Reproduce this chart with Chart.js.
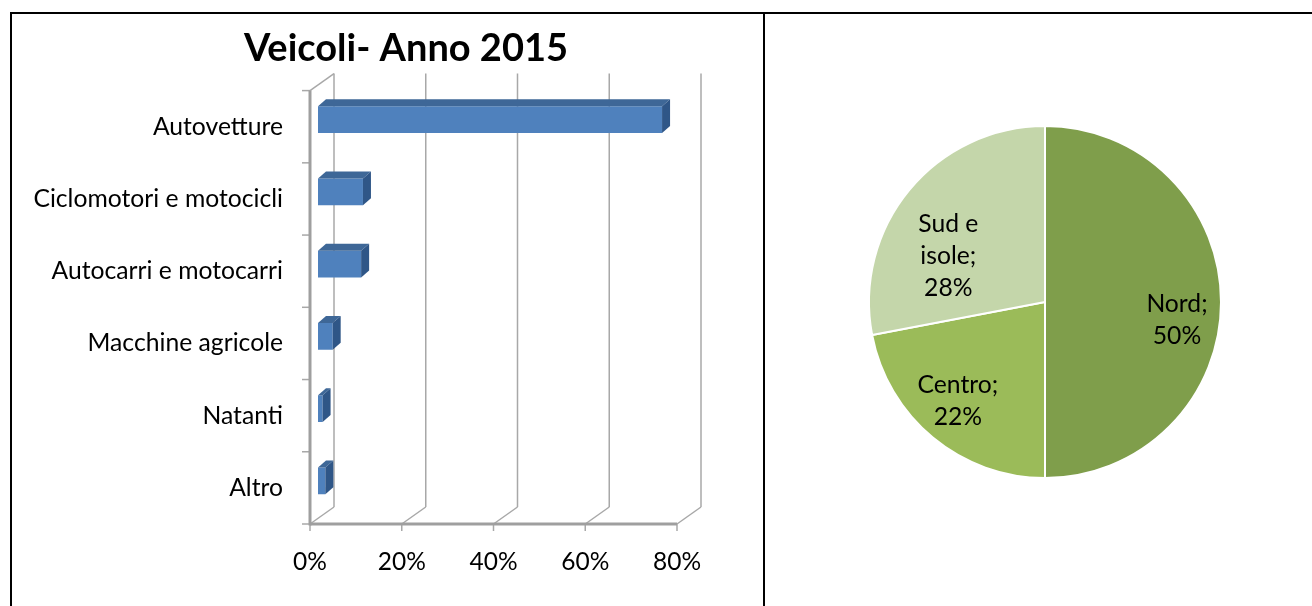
<!DOCTYPE html>
<html lang="it">
<head>
    <meta charset="UTF-8">
    <title>Veicoli - Anno 2015</title>
    <script src="https://cdn.jsdelivr.net/npm/chart.js@4.4.1/dist/chart.umd.min.js"></script>
    <style>
        body { margin: 0; width: 1312px; height: 606px; background: #fff; position: relative; overflow: hidden; }
        canvas { position: absolute; }
        .rule { position: absolute; background: #000; }
    </style>
</head>
<body>
    <canvas id="bars" width="812" height="606" style="left:0;top:0"></canvas>
    <canvas id="pie" width="547" height="591" style="left:765px;top:15px"></canvas>
    <!-- table borders of the page -->
    <div class="rule" style="left:10px;top:12px;width:1302px;height:2px"></div>
    <div class="rule" style="left:10px;top:12px;width:2px;height:594px"></div>
    <div class="rule" style="left:763px;top:12px;width:2px;height:594px"></div>
    <script>
        // bar chart data (share of vehicles, %)
        const vehicleTypes = ['Autovetture', 'Ciclomotori e motocicli', 'Autocarri e motocarri',
                              'Macchine agricole', 'Natanti', 'Altro'];
        const vehicleShare = [75.0, 9.8, 9.4, 3.2, 1.0, 1.6];
        const xTicks = [0, 20, 40, 60, 80];

        // pie chart data
        const areas = ['Nord', 'Centro', 'Sud e isole'];
        const areaShare = [50, 22, 28];
        const areaColors = ['#7f9e4b', '#9bbb59', '#c4d6aa'];

        const FONT = 'Lato, "Open Sans", sans-serif';

        function line(ctx, x1, y1, x2, y2) {
            ctx.beginPath();
            ctx.moveTo(x1, y1);
            ctx.lineTo(x2, y2);
            ctx.stroke();
        }

        // fake 3d: walls, floor and the top/side faces of every bar
        const bar3d = {
            id: 'bar3d',
            beforeDatasetsDraw(chart, args, opts) {
                const ctx = chart.ctx;
                const a = chart.chartArea;
                const x = chart.scales.x, y = chart.scales.y;
                ctx.save();
                ctx.strokeStyle = '#a8a8a8';
                ctx.lineWidth = 1.5;
                x.ticks.forEach(t => {
                    const px = x.getPixelForValue(t.value);
                    line(ctx, px + opts.wallX, a.top + opts.wallY, px + opts.wallX, a.bottom + opts.wallY);
                    line(ctx, px, a.bottom, px + opts.wallX, a.bottom + opts.wallY);
                    line(ctx, px, a.bottom, px, a.bottom + 7);
                });
                line(ctx, a.left, a.top, a.left + opts.wallX, a.top + opts.wallY);
                const n = y.ticks.length;
                const step = (a.bottom - a.top) / n;
                for (let i = 0; i <= n; i++) {
                    line(ctx, a.left - 8, a.top + i * step, a.left, a.top + i * step);
                }
                ctx.strokeStyle = '#9f9f9f';
                ctx.lineWidth = 3;
                line(ctx, a.left, a.top, a.left, a.bottom + 1.5);
                line(ctx, a.left, a.bottom, x.getPixelForValue(x.max), a.bottom);
                ctx.restore();

                // bars sit a bit inside the depth of the box
                ctx.save();
                ctx.translate(opts.shiftX, opts.shiftY);
            },
            afterDatasetsDraw(chart, args, opts) {
                const ctx = chart.ctx;
                chart.getDatasetMeta(0).data.forEach(b => {
                    const p = b.getProps(['x', 'y', 'base', 'height'], true);
                    const top = p.y - p.height / 2, bot = p.y + p.height / 2;
                    ctx.fillStyle = opts.topColor;
                    ctx.beginPath();
                    ctx.moveTo(p.base, top);
                    ctx.lineTo(p.x, top);
                    ctx.lineTo(p.x + opts.depthX, top + opts.depthY);
                    ctx.lineTo(p.base + opts.depthX, top + opts.depthY);
                    ctx.closePath();
                    ctx.fill();
                    ctx.fillStyle = opts.sideColor;
                    ctx.beginPath();
                    ctx.moveTo(p.x, top);
                    ctx.lineTo(p.x + opts.depthX, top + opts.depthY);
                    ctx.lineTo(p.x + opts.depthX, bot + opts.depthY);
                    ctx.lineTo(p.x, bot);
                    ctx.closePath();
                    ctx.fill();
                });
                ctx.restore();
            }
        };

        new Chart(document.getElementById('bars'), {
            type: 'bar',
            data: {
                labels: vehicleTypes,
                datasets: [{
                    data: vehicleShare,
                    backgroundColor: '#4f81bd',
                    borderWidth: 0,
                    barPercentage: 0.37,
                    categoryPercentage: 1
                }]
            },
            options: {
                indexAxis: 'y',
                responsive: false,
                animation: false,
                events: [],
                layout: { padding: 0 },
                scales: {
                    x: {
                        min: 0, max: 80,
                        afterBuildTicks(scale) { scale.ticks = xTicks.map(v => ({ value: v })); },
                        afterFit(scale) { scale.height = 82; },
                        grid: { display: false, drawTicks: false },
                        border: { display: false },
                        ticks: { color: '#000', padding: 23, font: { family: FONT, size: 24.5 },
                                 callback: v => v + '%' }
                    },
                    y: {
                        afterFit(scale) { scale.width = 310; },
                        grid: { display: false, drawTicks: false },
                        border: { display: false },
                        ticks: { color: '#000', padding: 27, font: { family: FONT, size: 24.7 } }
                    },
                    // empty spacer on the right so the title is centred like the original
                    spacer: {
                        type: 'category',
                        position: 'right',
                        afterFit(scale) { scale.width = 135; },
                        grid: { display: false, drawTicks: false },
                        border: { display: false },
                        ticks: { display: false }
                    }
                },
                plugins: {
                    legend: { display: false },
                    tooltip: { enabled: false },
                    title: {
                        display: true,
                        text: 'Veicoli- Anno 2015',
                        color: '#000',
                        font: { family: FONT, size: 38, weight: 'bold' },
                        padding: { top: 26, bottom: 19 }
                    },
                    bar3d: {
                        wallX: 24, wallY: -17,
                        shiftX: 8, shiftY: -7,
                        depthX: 8, depthY: -7,
                        topColor: '#3e6797', sideColor: '#2f5687'
                    }
                }
            },
            plugins: [bar3d]
        });

        // labels "Name;" / "nn%" inside the slices
        const pieLabels = {
            id: 'pieLabels',
            afterDatasetsDraw(chart, args, opts) {
                const ctx = chart.ctx;
                const ds = chart.data.datasets[0];
                const total = ds.data.reduce((s, v) => s + v, 0);
                ctx.save();
                ctx.font = opts.size + 'px ' + FONT;
                ctx.fillStyle = '#000';
                ctx.textAlign = 'center';
                ctx.textBaseline = 'middle';
                chart.getDatasetMeta(0).data.forEach((arc, i) => {
                    const mid = (arc.startAngle + arc.endAngle) / 2;
                    const r = arc.outerRadius * opts.radius;
                    const cx = arc.x + Math.cos(mid) * r + opts.nudge[i][0];
                    const cy = arc.y + Math.sin(mid) * r + opts.nudge[i][1];
                    // wrap the name like the office chart does
                    const words = (chart.data.labels[i] + ';').split(' ');
                    const lines = [];
                    let cur = '';
                    words.forEach(w => {
                        const test = cur ? cur + ' ' + w : w;
                        if (cur && ctx.measureText(test).width > opts.wrap) {
                            lines.push(cur);
                            cur = w;
                        } else {
                            cur = test;
                        }
                    });
                    lines.push(cur);
                    lines.push(Math.round(ds.data[i] / total * 100) + '%');
                    const y0 = cy - (lines.length - 1) * opts.lineHeight / 2;
                    lines.forEach((t, k) => ctx.fillText(t, cx, y0 + k * opts.lineHeight));
                });
                ctx.restore();
            }
        };

        new Chart(document.getElementById('pie'), {
            type: 'pie',
            data: {
                labels: areas,
                datasets: [{
                    data: areaShare,
                    backgroundColor: areaColors,
                    borderColor: '#ffffff',
                    borderWidth: 2,
                    hoverOffset: 0
                }]
            },
            options: {
                responsive: false,
                animation: false,
                events: [],
                layout: { padding: { left: 103, right: 90, top: 110, bottom: 127 } },
                plugins: {
                    legend: { display: false },
                    tooltip: { enabled: false },
                    pieLabels: {
                        size: 24.7, lineHeight: 32, radius: 0.75, wrap: 92,
                        nudge: [[0, 18], [-3, -3], [5, 38]]
                    }
                }
            },
            plugins: [pieLabels]
        });
    </script>
</body>
</html>
